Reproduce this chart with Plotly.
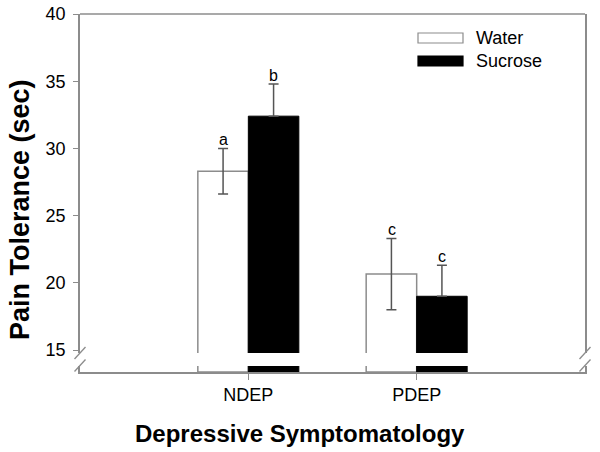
import plotly.graph_objects as go

# ---------------- data ----------------
categories = ["NDEP", "PDEP"]
water_mean = [28.3, 20.65]
water_sem = [1.7, 2.65]
sucrose_mean = [32.4, 19.0]
sucrose_sem = [2.4, 2.3]
water_letters = ["a", "c"]
sucrose_letters = ["b", "c"]
y_ticks = [15, 20, 25, 30, 35, 40]
series_names = ["Water", "Sucrose"]

# ---------------- layout helpers ----------------
W, H = 600, 452
L, R, T, B = 80, 15, 14, 80
PW = W - L - R
PH = H - T - B
GRAY = "#8c8c8c"
ERR = "#555555"
FONT = "Arial, Liberation Sans, sans-serif"


def px(x):
    return (x - L) / PW


def py(y):
    return (H - B - y) / PH


fig = go.Figure()

# upper (main) segment
fig.add_trace(go.Bar(
    x=categories, y=water_mean, width=0.3, offset=-0.3, name=series_names[0],
    marker=dict(color="white", line=dict(color=GRAY, width=1.5)),
    error_y=dict(type="data", array=water_sem, color=ERR, thickness=1.5, width=5),
    xaxis="x", yaxis="y", showlegend=False))
fig.add_trace(go.Bar(
    x=categories, y=sucrose_mean, width=0.3, offset=0.0, name=series_names[1],
    marker=dict(color="black", line=dict(color="black", width=1)),
    error_y=dict(type="data", array=sucrose_sem, symmetric=False,
                 arrayminus=[0] * len(sucrose_sem), color=ERR, thickness=1.5, width=5),
    xaxis="x", yaxis="y", showlegend=False))

# lower (broken) segment
fig.add_trace(go.Bar(
    x=categories, y=water_mean, width=0.3, offset=-0.3, name=series_names[0],
    marker=dict(color="white", line=dict(color=GRAY, width=1.5)),
    xaxis="x", yaxis="y2", showlegend=False, hoverinfo="skip"))
fig.add_trace(go.Bar(
    x=categories, y=sucrose_mean, width=0.3, offset=0.0, name=series_names[1],
    marker=dict(color="black", line=dict(color="black", width=1)),
    xaxis="x", yaxis="y2", showlegend=False, hoverinfo="skip"))

annotations = []
for i, cat in enumerate(categories):
    annotations.append(dict(x=cat, y=water_mean[i] + water_sem[i], xref="x", yref="y",
                            text=water_letters[i], showarrow=False, xshift=-25, yshift=-2,
                            yanchor="bottom", font=dict(size=16, color="black", family=FONT)))
    annotations.append(dict(x=cat, y=sucrose_mean[i] + sucrose_sem[i], xref="x", yref="y",
                            text=sucrose_letters[i], showarrow=False, xshift=25, yshift=-2,
                            yanchor="bottom", font=dict(size=16, color="black", family=FONT)))

# axis titles
annotations.append(dict(x=px(300), y=py(433), xref="paper", yref="paper",
                        text="Depressive Symptomatology", showarrow=False,
                        xanchor="center", yanchor="middle",
                        font=dict(size=24, color="black", family=FONT, weight="bold")))
annotations.append(dict(x=px(20), y=py(210), xref="paper", yref="paper",
                        text="Pain Tolerance (sec)", showarrow=False, textangle=-90,
                        xanchor="center", yanchor="middle",
                        font=dict(size=27, color="black", family=FONT, weight="bold")))

# custom legend
shapes = []
leg_y = [38, 61]
leg_fill = ["white", "black"]
leg_line = [GRAY, "black"]
for k in range(2):
    shapes.append(dict(type="rect", xref="paper", yref="paper",
                       x0=px(418), x1=px(463), y0=py(leg_y[k] + 5), y1=py(leg_y[k] - 5),
                       fillcolor=leg_fill[k], line=dict(color=leg_line[k], width=1.2)))
    annotations.append(dict(x=px(474), y=py(leg_y[k]), xref="paper", yref="paper",
                            text=series_names[k], showarrow=False, xanchor="left",
                            yanchor="middle", font=dict(size=18, color="black", family=FONT)))

# top frame line
shapes.append(dict(type="line", xref="paper", yref="paper", x0=0, x1=1, y0=1, y1=1,
                   line=dict(color=GRAY, width=1.5)))

# break marks
for xc in (L, W - R):
    for yc in (353, 365.5):
        shapes.append(dict(type="line", xref="paper", yref="paper",
                           x0=px(xc - 5.5), y0=py(yc + 6), x1=px(xc + 5.5), y1=py(yc - 6),
                           line=dict(color=GRAY, width=1.3)))

fig.update_layout(
    width=W, height=H,
    margin=dict(l=L, r=R, t=T, b=B, autoexpand=False),
    paper_bgcolor="white", plot_bgcolor="white",
    font=dict(family=FONT, color="black"),
    showlegend=False,
    xaxis=dict(type="category", categoryorder="array", categoryarray=categories,
               range=[-1, 2], anchor="y2", showline=True, linecolor=GRAY, linewidth=1.5,
               ticks="outside", ticklen=6, tickcolor=GRAY, tickwidth=1.3,
               tickfont=dict(size=18, color="black"), showgrid=False, zeroline=False,
               automargin=False),
    yaxis=dict(domain=[py(353), 1], range=[14.78, 40], tickvals=y_ticks,
               ticks="outside", ticklen=5, tickcolor=GRAY, tickwidth=1.3,
               showline=True, mirror=True, linecolor=GRAY, linewidth=1.5,
               tickfont=dict(size=18, color="black"), showgrid=False, zeroline=False,
               anchor="x", automargin=False, ticklabelstandoff=4),
    yaxis2=dict(domain=[0, py(366)], range=[0, 1], showline=True, mirror=True,
                linecolor=GRAY, linewidth=1.5, showticklabels=False, ticks="",
                showgrid=False, zeroline=False, anchor="x", automargin=False),
    annotations=annotations,
    shapes=shapes,
)

fig.write_html(
    "out.html",
    config={"displayModeBar": False},
    post_script="document.body.style.margin='0';document.body.style.overflow='hidden';",
)
